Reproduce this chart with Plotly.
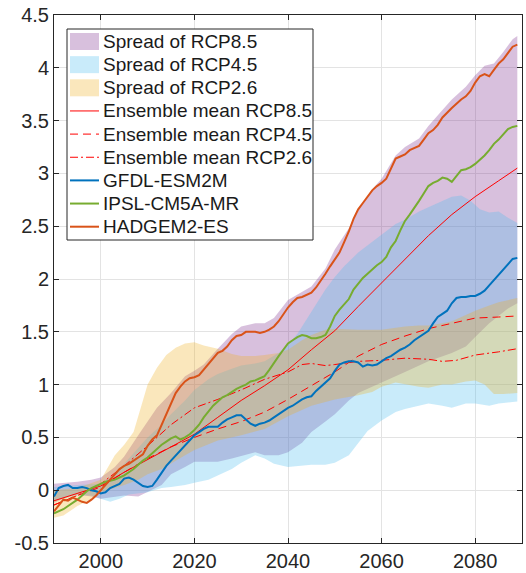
import plotly.graph_objects as go

# ---------------- data ----------------
YEARS = list(range(1990, 2090))

GFDL_ESM2M = [
    -0.06, 0.02, 0.04, 0.05, 0.02, 0.02, 0.03, 0.02, 0.00, -0.01,
    -0.03, -0.02, 0.02, 0.04, 0.06, 0.11, 0.12, 0.10, 0.07, 0.04,
    0.03, 0.04, 0.10, 0.17, 0.23, 0.28, 0.33, 0.37, 0.42, 0.48,
    0.52, 0.55, 0.58, 0.60, 0.60, 0.60, 0.64, 0.67, 0.69, 0.71,
    0.71, 0.67, 0.63, 0.61, 0.63, 0.64, 0.66, 0.69, 0.72, 0.75,
    0.78, 0.80, 0.83, 0.86, 0.88, 0.89, 0.94, 0.98, 1.02, 1.06,
    1.13, 1.19, 1.21, 1.22, 1.22, 1.21, 1.17, 1.19, 1.18, 1.19,
    1.22, 1.25, 1.27, 1.30, 1.33, 1.35, 1.38, 1.42, 1.45, 1.48,
    1.51, 1.58, 1.64, 1.67, 1.70, 1.77, 1.82, 1.83, 1.83, 1.84,
    1.84, 1.86, 1.89, 1.94, 1.99, 2.03, 2.08, 2.14, 2.19, 2.20,
]

IPSL_CM5A_MR = [
    -0.22, -0.20, -0.18, -0.15, -0.12, -0.09, -0.05, -0.01, 0.02, 0.04,
    0.06, 0.08, 0.09, 0.10, 0.12, 0.14, 0.17, 0.20, 0.24, 0.28,
    0.31, 0.35, 0.39, 0.43, 0.46, 0.49, 0.51, 0.48, 0.50, 0.53,
    0.57, 0.62, 0.69, 0.75, 0.80, 0.84, 0.88, 0.90, 0.93, 0.96,
    0.98, 1.00, 1.03, 1.04, 1.06, 1.08, 1.14, 1.21, 1.27, 1.33,
    1.39, 1.42, 1.45, 1.47, 1.46, 1.44, 1.44, 1.45, 1.47, 1.55,
    1.65, 1.71, 1.76, 1.81, 1.90, 1.96, 2.01, 2.05, 2.09, 2.13,
    2.16, 2.21, 2.30, 2.36, 2.46, 2.55, 2.61, 2.67, 2.74, 2.81,
    2.88, 2.91, 2.93, 2.96, 2.95, 2.92, 2.98, 3.03, 3.04, 3.06,
    3.09, 3.13, 3.17, 3.22, 3.28, 3.32, 3.37, 3.42, 3.44, 3.45,
]

HADGEM2_ES = [
    -0.20, -0.14, -0.09, -0.10, -0.07, -0.09, -0.11, -0.12, -0.09, -0.05,
    0.00, 0.06, 0.11, 0.16, 0.20, 0.23, 0.25, 0.28, 0.31, 0.34,
    0.42, 0.48, 0.52, 0.62, 0.73, 0.83, 0.92, 0.98, 1.03, 1.06,
    1.07, 1.09, 1.14, 1.20, 1.25, 1.30, 1.32, 1.36, 1.42, 1.46,
    1.47, 1.50, 1.50, 1.50, 1.49, 1.50, 1.52, 1.55, 1.60, 1.67,
    1.73, 1.78, 1.82, 1.83, 1.85, 1.87, 1.92, 1.98, 2.05, 2.12,
    2.18, 2.25, 2.35, 2.45, 2.57, 2.66, 2.72, 2.78, 2.84, 2.88,
    2.91, 2.95, 3.05, 3.14, 3.16, 3.18, 3.22, 3.24, 3.26, 3.32,
    3.38, 3.41, 3.46, 3.53, 3.58, 3.62, 3.66, 3.70, 3.73, 3.78,
    3.86, 3.92, 3.94, 3.92, 3.98, 4.04, 4.08, 4.14, 4.20, 4.22,
]

MEAN85_YEARS = [1990, 1995, 2000, 2005, 2010, 2015, 2020, 2025, 2030, 2035, 2040,
                2045, 2050, 2055, 2060, 2065, 2070, 2075, 2080, 2085, 2089]
MEAN85 = [-0.10, -0.03, 0.04, 0.17, 0.29, 0.41, 0.53, 0.69, 0.85, 0.99, 1.14,
          1.33, 1.51, 1.74, 1.96, 2.19, 2.41, 2.61, 2.78, 2.93, 3.05]

MEAN45_YEARS = [1990, 1995, 2000, 2005, 2010, 2015, 2020, 2025, 2030, 2035, 2040,
                2045, 2050, 2055, 2060, 2065, 2070, 2075, 2080, 2085, 2089]
MEAN45 = [-0.14, -0.05, 0.03, 0.17, 0.30, 0.41, 0.50, 0.58, 0.65, 0.74, 0.86,
          0.99, 1.12, 1.27, 1.38, 1.46, 1.53, 1.58, 1.63, 1.64, 1.65]

MEAN26_YEARS = [1990, 1995, 2000, 2005, 2010, 2015, 2020, 2025, 2030, 2035, 2040, 2043,
                2045, 2048, 2050, 2055, 2060, 2065, 2070, 2073, 2076, 2080, 2085, 2089]
MEAN26 = [-0.14, -0.05, 0.06, 0.23, 0.42, 0.62, 0.78, 0.86, 0.95, 1.05, 1.12, 1.19,
          1.20, 1.18, 1.19, 1.22, 1.23, 1.25, 1.24, 1.22, 1.23, 1.28, 1.31, 1.34]

# spread of RCP8.5
R85_UP_YEARS = [1990, 1993, 1995, 1998, 2000, 2003, 2005, 2008, 2010, 2012, 2015, 2018, 2020, 2022,
                2025, 2028, 2030, 2033, 2035, 2037, 2040, 2043, 2045, 2048, 2050, 2053, 2055, 2058,
                2060, 2063, 2065, 2068, 2070, 2073, 2075, 2078, 2080, 2082, 2084, 2086, 2088, 2089]
R85_UP = [0.06, 0.07, 0.08, 0.10, 0.12, 0.22, 0.32, 0.52, 0.65, 0.78, 0.92, 1.08, 1.13, 1.19,
          1.34, 1.48, 1.55, 1.58, 1.58, 1.63, 1.80, 1.88, 1.93, 2.10, 2.28, 2.48, 2.65, 2.85,
          2.95, 3.17, 3.25, 3.33, 3.45, 3.60, 3.70, 3.82, 3.93, 4.02, 4.04, 4.15, 4.27, 4.30]
R85_LO_YEARS = [1990, 1993, 1995, 1998, 2000, 2003, 2005, 2008, 2010, 2013, 2015, 2018, 2020, 2025,
                2028, 2030, 2033, 2035, 2038, 2040, 2043, 2045, 2048, 2050, 2053, 2055, 2060, 2065,
                2070, 2075, 2078, 2080, 2083, 2085, 2087, 2089]
R85_LO = [-0.12, -0.06, -0.04, -0.06, -0.08, -0.06, -0.05, -0.06, -0.02, 0.05, 0.15, 0.22, 0.27, 0.27,
          0.30, 0.32, 0.36, 0.33, 0.33, 0.36, 0.45, 0.55, 0.65, 0.72, 0.85, 0.92, 1.02, 1.12,
          1.22, 1.30, 1.36, 1.45, 1.58, 1.65, 1.72, 1.77]

# spread of RCP4.5
R45_UP_YEARS = [1990, 1995, 2000, 2003, 2005, 2008, 2010, 2013, 2015, 2018, 2020, 2023, 2025, 2028,
                2030, 2033, 2035, 2038, 2040, 2042, 2044, 2046, 2048, 2050, 2052, 2055, 2058, 2060,
                2063, 2065, 2068, 2070, 2073, 2075, 2077, 2079, 2081, 2083, 2085, 2087, 2089]
R45_UP = [0.03, 0.05, 0.06, 0.15, 0.25, 0.40, 0.50, 0.62, 0.72, 0.85, 0.95, 1.05, 1.10, 1.15,
          1.18, 1.20, 1.22, 1.30, 1.38, 1.48, 1.62, 1.75, 1.90, 2.02, 2.12, 2.25, 2.35, 2.42,
          2.52, 2.56, 2.64, 2.68, 2.74, 2.78, 2.79, 2.74, 2.66, 2.63, 2.64, 2.58, 2.53]
R45_LO_YEARS = [1990, 1995, 1998, 2000, 2002, 2004, 2006, 2010, 2013, 2015, 2018, 2020, 2023, 2025,
                2028, 2030, 2033, 2035, 2037, 2040, 2043, 2045, 2048, 2050, 2053, 2055, 2057, 2060,
                2063, 2065, 2068, 2070, 2073, 2075, 2078, 2080, 2083, 2085, 2089]
R45_LO = [-0.10, -0.05, -0.05, -0.08, -0.11, -0.08, -0.04, -0.02, 0.02, 0.03, 0.05, 0.07, 0.10, 0.14,
          0.20, 0.26, 0.33, 0.30, 0.25, 0.22, 0.23, 0.24, 0.24, 0.26, 0.33, 0.45, 0.56, 0.66,
          0.74, 0.77, 0.80, 0.82, 0.80, 0.78, 0.82, 0.82, 0.80, 0.82, 0.84]

# spread of RCP2.6
R26_UP_YEARS = [1990, 1995, 2000, 2003, 2005, 2007, 2009, 2010, 2012, 2014, 2016, 2018, 2020, 2022,
                2025, 2028, 2030, 2033, 2035, 2038, 2040, 2043, 2045, 2048, 2050, 2055, 2060, 2065,
                2068, 2070, 2073, 2075, 2078, 2080, 2083, 2085, 2089]
R26_UP = [0.00, 0.02, 0.10, 0.33, 0.43, 0.55, 0.85, 1.00, 1.16, 1.28, 1.35, 1.39, 1.40, 1.37,
          1.34, 1.29, 1.27, 1.27, 1.28, 1.30, 1.33, 1.42, 1.47, 1.52, 1.53, 1.52, 1.52, 1.55,
          1.56, 1.56, 1.58, 1.60, 1.66, 1.70, 1.75, 1.78, 1.82]
R26_LO_YEARS = [1990, 1992, 1995, 1998, 2000, 2003, 2005, 2008, 2010, 2013, 2015, 2018, 2020, 2025,
                2030, 2035, 2040, 2045, 2050, 2055, 2058, 2060, 2063, 2065, 2068, 2070, 2073, 2075,
                2078, 2080, 2082, 2084, 2086, 2089]
R26_LO = [-0.26, -0.24, -0.15, -0.08, -0.02, 0.02, 0.05, 0.10, 0.15, 0.20, 0.25, 0.33, 0.38, 0.47,
          0.52, 0.58, 0.70, 0.80, 0.86, 0.90, 0.93, 0.98, 1.02, 1.00, 0.98, 0.97, 1.00, 1.00,
          1.03, 1.04, 1.00, 0.91, 0.91, 0.92]

X_TICKS = [2000, 2020, 2040, 2060, 2080]
Y_TICKS = [-0.5, 0, 0.5, 1, 1.5, 2, 2.5, 3, 3.5, 4, 4.5]
Y_TICK_TEXT = ["-0.5", "0", "0.5", "1", "1.5", "2", "2.5", "3", "3.5", "4", "4.5"]

LEGEND_LABELS = ["Spread of RCP8.5", "Spread of RCP4.5", "Spread of RCP2.6",
                 "Ensemble mean RCP8.5", "Ensemble mean RCP4.5", "Ensemble mean RCP2.6",
                 "GFDL-ESM2M", "IPSL-CM5A-MR", "HADGEM2-ES"]

# ---------------- styles ----------------
FONT = "Liberation Sans, Arial, Helvetica, sans-serif"
AX = "#262626"
C85 = "rgba(126,47,142,0.3)"
C45 = "rgba(77,190,238,0.3)"
C26 = "rgba(237,177,32,0.3)"
C_GFDL = "#0072BD"
C_IPSL = "#77AC30"
C_HAD = "#D95319"
C_MEAN = "#FF0000"
DASH45 = "8px,5px"
DASH26 = "8px,3px,2px,3px"

W, H = 526, 573
ML, MR, MT, MB = 54, 4, 15, 30
PW, PH = W - ML - MR, H - MT - MB

fig = go.Figure()


def band(up_x, up_y, lo_x, lo_y, color):
    xs = list(up_x) + list(reversed(lo_x))
    ys = list(up_y) + list(reversed(lo_y))
    fig.add_trace(go.Scatter(x=xs, y=ys, fill="toself", fillcolor=color,
                             line=dict(width=0), mode="lines",
                             hoverinfo="skip", showlegend=False))


band(R85_UP_YEARS, R85_UP, R85_LO_YEARS, R85_LO, C85)
band(R45_UP_YEARS, R45_UP, R45_LO_YEARS, R45_LO, C45)
band(R26_UP_YEARS, R26_UP, R26_LO_YEARS, R26_LO, C26)

fig.add_trace(go.Scatter(x=MEAN85_YEARS, y=MEAN85, mode="lines",
                         line=dict(color=C_MEAN, width=1), showlegend=False))
fig.add_trace(go.Scatter(x=MEAN45_YEARS, y=MEAN45, mode="lines",
                         line=dict(color=C_MEAN, width=1, dash=DASH45), showlegend=False))
fig.add_trace(go.Scatter(x=MEAN26_YEARS, y=MEAN26, mode="lines",
                         line=dict(color=C_MEAN, width=1, dash=DASH26), showlegend=False))

fig.add_trace(go.Scatter(x=YEARS, y=GFDL_ESM2M, mode="lines",
                         line=dict(color=C_GFDL, width=2), showlegend=False))
fig.add_trace(go.Scatter(x=YEARS, y=IPSL_CM5A_MR, mode="lines",
                         line=dict(color=C_IPSL, width=2), showlegend=False))
fig.add_trace(go.Scatter(x=YEARS, y=HADGEM2_ES, mode="lines",
                         line=dict(color=C_HAD, width=2), showlegend=False))


# ---------------- legend (drawn in paper space) ----------------
def px_x(p):
    return (p - ML) / PW


def px_y(p):
    return (H - MB - p) / PH


shapes = []
annotations = []
BOX_L, BOX_R, BOX_T, BOX_B = 67, 313, 29, 240
shapes.append(dict(type="rect", xref="paper", yref="paper",
                   x0=px_x(BOX_L), x1=px_x(BOX_R), y0=px_y(BOX_B), y1=px_y(BOX_T),
                   line=dict(color=AX, width=1), fillcolor="white", layer="above"))

sym_styles = [
    ("patch", C85, None), ("patch", C45, None), ("patch", C26, None),
    ("line", C_MEAN, ("solid", 1)), ("line", C_MEAN, (DASH45, 1)), ("line", C_MEAN, (DASH26, 1)),
    ("line", C_GFDL, ("solid", 2)), ("line", C_IPSL, ("solid", 2)), ("line", C_HAD, ("solid", 2)),
]
ROW0, ROWSTEP = 41.5, 23.15
SYM_L, SYM_R, TXT_L = 70, 99, 101
for i, (label, (kind, col, ls)) in enumerate(zip(LEGEND_LABELS, sym_styles)):
    cy = ROW0 + i * ROWSTEP
    if kind == "patch":
        shapes.append(dict(type="rect", xref="paper", yref="paper",
                           x0=px_x(SYM_L), x1=px_x(SYM_R),
                           y0=px_y(cy + 8.5), y1=px_y(cy - 8.5),
                           line=dict(width=0), fillcolor=col, layer="above"))
    else:
        shapes.append(dict(type="line", xref="paper", yref="paper",
                           x0=px_x(SYM_L), x1=px_x(SYM_R), y0=px_y(cy), y1=px_y(cy),
                           line=dict(color=col, width=ls[1], dash=ls[0]), layer="above"))
    annotations.append(dict(xref="paper", yref="paper", x=px_x(TXT_L), y=px_y(cy),
                            xanchor="left", yanchor="middle", showarrow=False,
                            text=label, font=dict(family=FONT, size=19, color="#1a1a1a")))

fig.update_layout(
    width=W, height=H,
    margin=dict(l=ML, r=MR, t=MT, b=MB, autoexpand=False),
    paper_bgcolor="white", plot_bgcolor="white",
    font=dict(family=FONT, size=20, color=AX),
    shapes=shapes, annotations=annotations,
    showlegend=False,
)
fig.update_xaxes(range=[1990, 2090], tickvals=X_TICKS, ticktext=[str(t) for t in X_TICKS],
                 showgrid=True, gridcolor="#e3e3e3", gridwidth=1, zeroline=False,
                 showline=True, linecolor=AX, linewidth=1, mirror="ticks",
                 ticks="inside", ticklen=5, tickcolor=AX, tickwidth=1,
                 tickfont=dict(family=FONT, size=20, color=AX))
fig.update_yaxes(range=[-0.5, 4.5], tickvals=Y_TICKS, ticktext=Y_TICK_TEXT,
                 showgrid=True, gridcolor="#e3e3e3", gridwidth=1, zeroline=False,
                 showline=True, linecolor=AX, linewidth=1, mirror="ticks",
                 ticks="inside", ticklen=5, tickcolor=AX, tickwidth=1,
                 tickfont=dict(family=FONT, size=20, color=AX))

fig.write_html("out.html")
